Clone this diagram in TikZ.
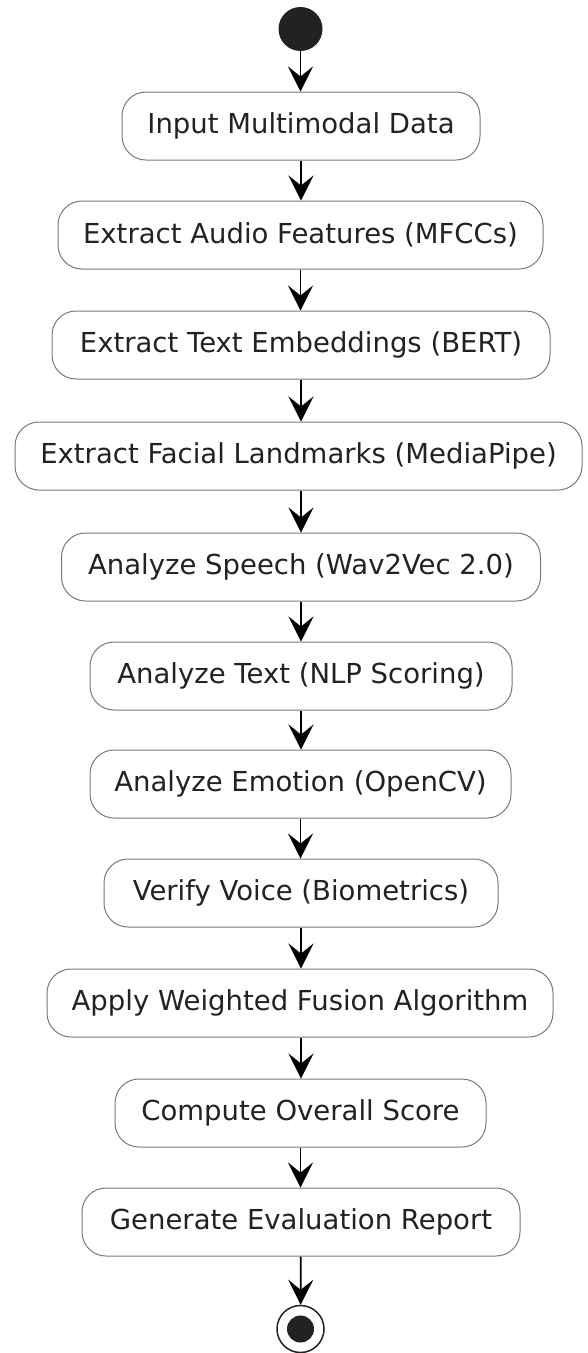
\documentclass[tikz,border=0pt]{standalone}
\usepackage{fontspec}
\setmainfont{DejaVu Sans}
\usetikzlibrary{arrows.meta}
\definecolor{ink}{HTML}{222222}
\definecolor{edge}{HTML}{7A7A7A}
\tikzset{
  act/.style={draw=edge, line width=1pt, rounded corners=24pt, fill=white, minimum height=68pt, inner sep=0pt, text=ink, font=\fontsize{27.5}{30}\selectfont, anchor=center},
  flow/.style={line width=1.8pt, draw=black, -{Stealth[length=25pt, width=25pt, inset=10pt]}},
}
\begin{document}
\begin{tikzpicture}[x=1pt, y=-1pt]
\useasboundingbox (0,0) rectangle (587,1353);
\node[circle, fill=ink, minimum size=44pt, inner sep=0pt] (start) at (300.5,29) {};
\node[act, minimum width=358pt] (n1) at (301,126) {Input Multimodal Data};
\node[act, minimum width=485pt] (n2) at (300.5,235) {Extract Audio Features (MFCCs)};
\node[act, minimum width=498pt] (n3) at (301,345) {Extract Text Embeddings (BERT)};
\node[act, minimum width=567pt] (n4) at (298.5,456) {Extract Facial Landmarks (MediaPipe)};
\node[act, minimum width=479pt] (n5) at (301,567) {Analyze Speech (Wav2Vec 2.0)};
\node[act, minimum width=422pt] (n6) at (301,676) {Analyze Text (NLP Scoring)};
\node[act, minimum width=421pt] (n7) at (300.5,784) {Analyze Emotion (OpenCV)};
\node[act, minimum width=394pt] (n8) at (301,893) {Verify Voice (Biometrics)};
\node[act, minimum width=506pt] (n9) at (300,1003) {Apply Weighted Fusion Algorithm};
\node[act, minimum width=371pt] (n10) at (300.5,1113) {Compute Overall Score};
\node[act, minimum width=438pt] (n11) at (301,1222) {Generate Evaluation Report};
\node[circle, draw=ink, line width=1.5pt, fill=white, minimum size=47pt, inner sep=0pt] (end) at (300.5,1329) {};
\node[circle, fill=ink, minimum size=27pt, inner sep=0pt] (endin) at (end.center) {};
\draw[flow] (start) -- (start |- n1.north);
\draw[flow] (n1) -- (n1 |- n2.north);
\draw[flow] (n2) -- (n2 |- n3.north);
\draw[flow] (n3) -- (n3 |- n4.north);
\draw[flow] (n4.south -| n3) -- (n3 |- n5.north);
\draw[flow] (n5) -- (n5 |- n6.north);
\draw[flow] (n6) -- (n6 |- n7.north);
\draw[flow] (n7) -- (n7 |- n8.north);
\draw[flow] (n8) -- (n8 |- n9.north);
\draw[flow] (n9.south -| n8) -- (n8 |- n10.north);
\draw[flow] (n10) -- (n10 |- n11.north);
\draw[flow] (n11) -- (end);
\end{tikzpicture}
\end{document}
